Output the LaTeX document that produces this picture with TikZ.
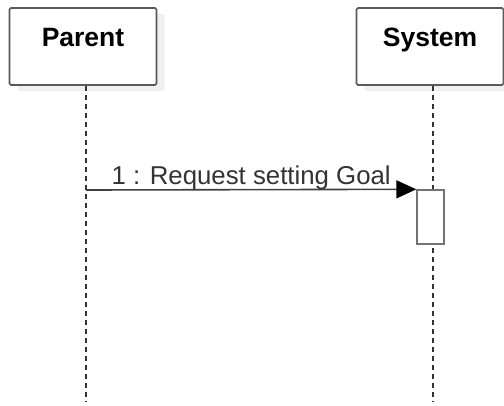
\documentclass[tikz,border=0pt]{standalone}
\usepackage{fontspec}
\setmainfont{Liberation Sans}
\usetikzlibrary{arrows.meta, positioning, shadows}

\begin{document}
\begin{tikzpicture}[x=1pt, y=-1pt]
        \tikzstyle{lifebox} = [rectangle, draw=black!65, line width=1.6pt, rounded corners=1.5pt, fill=white, minimum width=147pt, minimum height=77pt, inner sep=0pt, font=\fontsize{26.5}{30}\selectfont\bfseries, drop shadow={shadow xshift=8pt, shadow yshift=-6pt, fill=black!6, opacity=1}]
        \tikzstyle{lifeline} = [draw=black!80, line width=1.2pt, dash pattern=on 5pt off 4pt]
        \tikzstyle{activation} = [rectangle, draw=black!55, line width=1.4pt, fill=white, minimum width=27pt, minimum height=54pt, inner sep=0pt]
        \tikzstyle{message} = [draw=black!75, line width=1.6pt, -{Triangle[length=20pt, width=18pt, black]}]

        \useasboundingbox (0,0) rectangle (504,405);

        % participants
        \node (parent) [lifebox] at (83,46.5) {\raisebox{19pt}{Parent}};
        \node (system) [lifebox] at (430,46.5) {\raisebox{19pt}{System}};

        % ends of the lifelines
        \coordinate (parentend) at (86,402);
        \coordinate (systemend) at (433,402);

        \draw [lifeline] (parentend |- parent.south) -- (parentend);
        \draw [lifeline] (systemend |- system.south) -- (systemend);

        % activation and message
        \node (act) [activation] at (430.5,217) {};
        \coordinate (send) at (86,190);
        \draw [message] (send) -- node [above=-4pt, font=\fontsize{25.8}{28}\selectfont, text=black!80] {1 : Request setting Goal} (act.north west);
    \end{tikzpicture}
\end{document}
